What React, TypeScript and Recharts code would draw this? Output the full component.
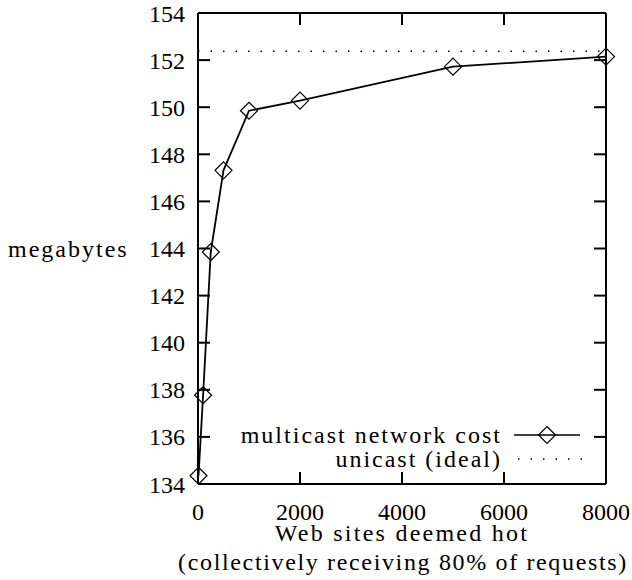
import {
  ComposedChart,
  Line,
  XAxis,
  YAxis,
  Legend,
  ReferenceLine,
  ReferenceDot,
} from 'recharts'

// Number of hot web sites vs. network cost in megabytes
const hotSites = [10, 100, 250, 500, 1000, 2000, 5000, 8000]
const multicastCost = [134.35, 137.77, 143.85, 147.32, 149.85, 150.28, 151.72, 152.15]
const unicastCost = 152.38

const xTicks = [0, 2000, 4000, 6000, 8000]
const yTicks = [134, 136, 138, 140, 142, 144, 146, 148, 150, 152, 154]
const X_DOMAIN: [number, number] = [0, 8000]
const Y_DOMAIN: [number, number] = [134, 154]

const data = hotSites.map((sites, i) => ({ sites, multicast: multicastCost[i] }))

// inner ticks get a short inward mark on both opposite sides of the frame
const innerX = xTicks.slice(1, -1)
const innerY = yTicks.slice(1, -1)

const WIDTH = 632
const HEIGHT = 580
const MARGIN = { top: 13, right: 26, bottom: 0, left: 0 }
const Y_AXIS_W = 198
const X_AXIS_H = 96
const TICK_LEN = 12

const FONT = '"Liberation Serif", serif'
const INK = '#000'

function Diamond({ cx, cy }: { cx?: number; cy?: number }) {
  if (cx == null || cy == null) return null
  const r = 8.5
  return (
    <path
      d={`M${cx},${cy - r} L${cx + r},${cy} L${cx},${cy + r} L${cx - r},${cy} Z`}
      fill="none"
      stroke={INK}
      strokeWidth={1.2}
    />
  )
}

// reference-dot shape: a short stroke from the anchor in direction (dx, dy)
const tickMark = (dx: number, dy: number) => (p: any) => {
  const cx = Number(p.cx)
  const cy = Number(p.cy)
  if (!Number.isFinite(cx) || !Number.isFinite(cy)) return <g />
  return (
    <path
      d={`M${cx},${cy}L${cx + dx * TICK_LEN},${cy + dy * TICK_LEN}`}
      fill="none"
      stroke={INK}
      strokeWidth={2}
    />
  )
}

function CostLegend() {
  const text = { fontFamily: FONT, fontSize: 24, letterSpacing: 2, fill: INK }
  return (
    <svg width={632} height={64}>
      <text x={502} y={15} textAnchor="end" dominantBaseline="central" {...text}>
        multicast network cost
      </text>
      <line x1={514} x2={580} y1={15} y2={15} stroke={INK} strokeWidth={1.6} />
      <Diamond cx={547} cy={15} />
      <text x={502} y={39} textAnchor="end" dominantBaseline="central" {...text}>
        unicast (ideal)
      </text>
      <line x1={518} x2={582} y1={39} y2={39} stroke={INK} strokeWidth={1.5} strokeDasharray="1.5 11" />
    </svg>
  )
}

function YTitle({ viewBox }: any) {
  if (!viewBox) return null
  return (
    <text
      x={8}
      y={viewBox.y + viewBox.height / 2}
      dominantBaseline="central"
      fontFamily={FONT}
      fontSize={24}
      letterSpacing={2}
      fill={INK}
    >
      megabytes
    </text>
  )
}

function XTitle({ viewBox }: any) {
  if (!viewBox) return null
  const base = { fontFamily: FONT, fontSize: 24, fill: INK, textAnchor: 'middle' as const }
  return (
    <g>
      <text x={402} y={viewBox.y + 49} dominantBaseline="central" letterSpacing={2.25} {...base}>
        Web sites deemed hot
      </text>
      <text x={403} y={viewBox.y + 78} dominantBaseline="central" letterSpacing={1.65} {...base}>
        (collectively receiving 80% of requests)
      </text>
    </g>
  )
}

const tickStyle = { fontFamily: FONT, fontSize: 24, fill: INK }
const frame = { stroke: INK, strokeWidth: 2 }

export default function App() {
  return (
    <div style={{ position: 'absolute', left: 0, top: 0, background: '#fff' }}>
      <ComposedChart width={WIDTH} height={HEIGHT} data={data} margin={MARGIN}>
        <XAxis
          dataKey="sites"
          type="number"
          domain={X_DOMAIN}
          ticks={xTicks}
          height={X_AXIS_H}
          tick={tickStyle}
          tickSize={0}
          tickMargin={19}
          tickLine={false}
          axisLine={frame}
          interval={0}
          label={<XTitle />}
        />
        <YAxis
          type="number"
          domain={Y_DOMAIN}
          ticks={yTicks}
          width={Y_AXIS_W}
          tick={tickStyle}
          tickSize={0}
          tickMargin={13}
          tickLine={false}
          axisLine={frame}
          interval={0}
          label={<YTitle />}
        />

        {/* top and right sides of the frame */}
        <ReferenceLine y={Y_DOMAIN[1]} {...frame} />
        <ReferenceLine x={X_DOMAIN[1]} {...frame} />

        {/* inward tick marks on all four sides */}
        {innerX.map((t) => (
          <ReferenceDot key={`b${t}`} x={t} y={Y_DOMAIN[0]} r={1} ifOverflow="visible" shape={tickMark(0, -1)} />
        ))}
        {innerX.map((t) => (
          <ReferenceDot key={`t${t}`} x={t} y={Y_DOMAIN[1]} r={1} ifOverflow="visible" shape={tickMark(0, 1)} />
        ))}
        {innerY.map((t) => (
          <ReferenceDot key={`l${t}`} x={X_DOMAIN[0]} y={t} r={1} ifOverflow="visible" shape={tickMark(1, 0)} />
        ))}
        {innerY.map((t) => (
          <ReferenceDot key={`r${t}`} x={X_DOMAIN[1]} y={t} r={1} ifOverflow="visible" shape={tickMark(-1, 0)} />
        ))}

        <ReferenceLine
          y={unicastCost}
          stroke={INK}
          strokeWidth={1.5}
          strokeDasharray="1.5 11"
        />
        <Line
          dataKey="multicast"
          type="linear"
          stroke={INK}
          strokeWidth={1.8}
          dot={<Diamond />}
          activeDot={false}
          isAnimationActive={false}
        />
        <Legend
          layout="horizontal"
          verticalAlign="middle"
          align="center"
          content={<CostLegend />}
          wrapperStyle={{ left: 0, top: 420, width: 632 }}
        />
      </ComposedChart>
    </div>
  )
}
